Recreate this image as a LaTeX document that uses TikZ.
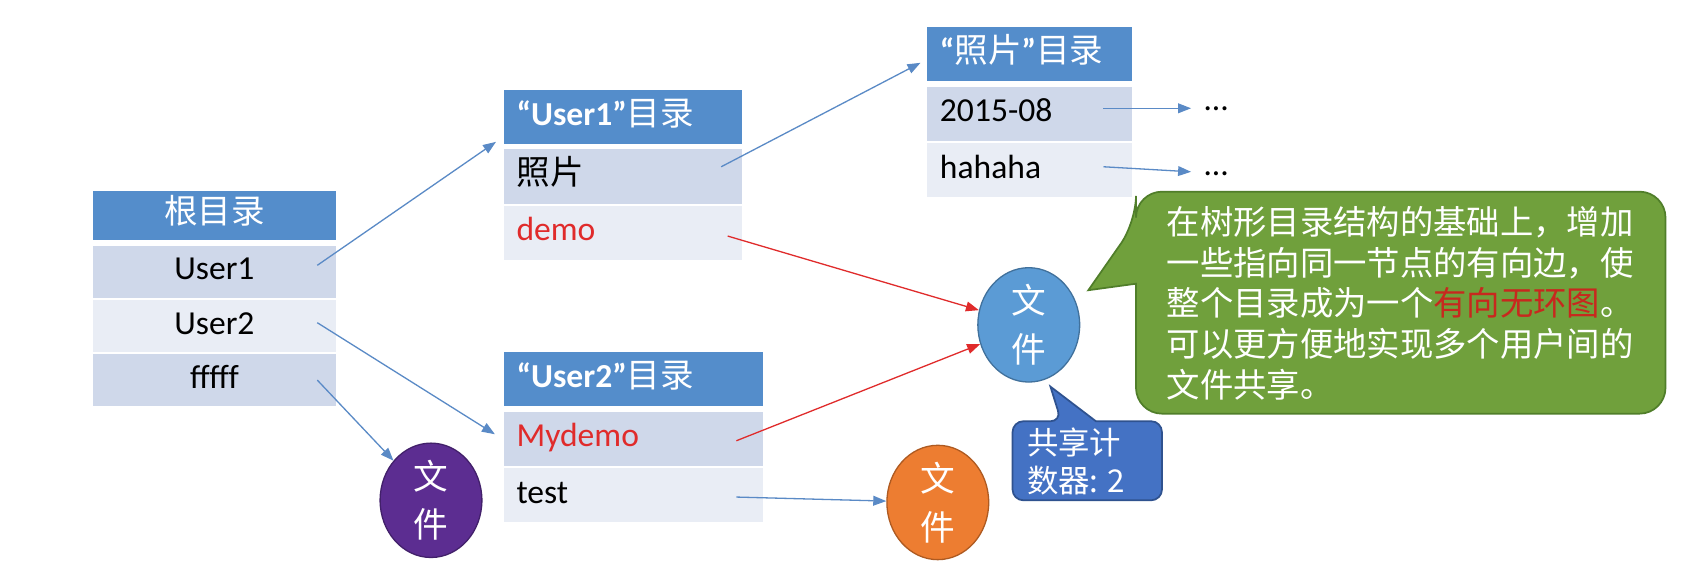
\documentclass[tikz,border=0pt]{standalone}
\usepackage{fontspec}
\setmainfont{Carlito}
\newfontfamily\cjk{Noto Sans CJK SC}
\usepackage {tikz}
\usetikzlibrary {positioning}
\usetikzlibrary{shapes.geometric}
\usetikzlibrary{arrows.meta}
\definecolor{headblue}{HTML}{548DCB}
\definecolor{banddark}{HTML}{CFD8EA}
\definecolor{bandlight}{HTML}{E9EDF5}
\definecolor{linkblue}{HTML}{5A8AC6}
\definecolor{linkred}{HTML}{E02B2B}
\definecolor{fileblue}{HTML}{5B9BD5}
\definecolor{fileblueline}{HTML}{41719C}
\definecolor{fileorange}{HTML}{ED7D31}
\definecolor{fileorangeline}{HTML}{AE5A21}
\definecolor{filepurple}{HTML}{5C2D91}
\definecolor{filepurpleline}{HTML}{42206A}
\definecolor{notegreen}{HTML}{70A03C}
\definecolor{notegreenline}{HTML}{507E2A}
\definecolor{notered}{HTML}{C8281E}
\definecolor{shareblue}{HTML}{4472C4}
\definecolor{sharebluline}{HTML}{2F528F}
\tikzset{
    cell/.style = {rectangle, inner xsep=6pt, inner ysep=0pt, outer sep=0pt, anchor=north west,
        text height=11pt, text depth=3.5pt, font=\fontsize{15.5}{18}\selectfont},
    head/.style = {cell, fill=headblue, text=white, minimum height=25pt, text width=#1},
    bandA/.style = {cell, fill=banddark, minimum height=25pt, text width=#1},
    bandB/.style = {cell, fill=bandlight, minimum height=25pt, text width=#1},
    filenode/.style = {ellipse, draw, line width=0.6pt, minimum width=47pt, minimum height=51pt,
        inner sep=0pt, text=white, align=center, font=\cjk\fontsize{16}{22.5}\selectfont},
    link/.style = {draw=linkblue, line width=0.6pt, -{Triangle[length=6pt,width=4.5pt]}},
    redlink/.style = {link, draw=linkred},
    dots/.style = {inner xsep=6pt, font=\fontsize{15.5}{18}\selectfont},
    notetext/.style = {align=left, text=white, inner sep=0pt, font=\cjk\fontsize{15.4}{18.75}\selectfont},
    sharetext/.style = {anchor=west, align=left, text=white, inner sep=0pt, font=\cjk\fontsize{14.5}{17.5}\selectfont}}
\begin{document}
\begin{tikzpicture}[x=0.5pt,y=-0.5pt]
        \path[use as bounding box, fill=white] (0,0) rectangle (1568,523.6);
        \node[head=100pt, align=center, minimum height=23pt] (R0) at (86,176) {\cjk 根目录};
        \node[bandA=100pt, align=center, minimum height=24pt, below=2.5pt of R0] (R1) {User1};
        \node[bandB=100pt, align=center, minimum height=24pt, below=1pt of R1] (R2) {User2};
        \node[bandA=100pt, align=center, minimum height=24pt, below=1pt of R2] (R3) {fffff};
        \node[head=98pt] (U0) at (465,83) {\bfseries “User1”\cjk\mdseries 目录};
        \node[bandA=98pt, below=2.5pt of U0] (U1) {\cjk 照片};
        \node[bandB=98pt, below=1pt of U1, text=linkred] (U2) {demo};
        \node[head=82.5pt] (P0) at (856,25) {{\bfseries “}{\cjk 照片}{\bfseries ”}{\cjk 目录}};
        \node[bandA=82.5pt, below=2.5pt of P0] (P1) {2015-08};
        \node[bandB=82.5pt, below=1pt of P1] (P2) {hahaha};
        \node[head=108pt] (V0) at (465,325) {\bfseries “User2”\cjk\mdseries 目录};
        \node[bandA=108pt, below=2.5pt of V0, text=linkred] (V1) {Mydemo};
        \node[bandB=108pt, below=1pt of V1] (V2) {test};
        \node[dots] (D1) at (1123,100) {…};
        \node[dots] (D2) at (1123,160) {…};
        \node[filenode, fill=fileblue, draw=fileblueline] (F1) at (950,300) {文\\件};
        \node[filenode, fill=fileorange, draw=fileorangeline] (F2) at (866,464) {文\\件};
        \node[filenode, fill=filepurple, draw=filepurpleline] (F3) at (398,462) {文\\件};
        \path[fill=notegreen, draw=notegreenline, line width=0.8pt, rounded corners=12pt]
            (1049,262) -- (1049,382) -- (1538,382) -- (1538,177) -- (1049,177) -- (1049,205)
            [sharp corners] -- (1005,268) -- cycle;
        \node[notetext] (N) at (1293,280) {在树形目录结构的基础上，增加\\一些指向同一节点的有向边，使\\整个目录成为一个{\color{notered}有向无环图}。\\可以更方便地实现多个用户间的\\文件共享。};
        \path[fill=shareblue, draw=sharebluline, line width=0.8pt, rounded corners=5pt]
            (1012,389) -- (1073,389) -- (1073,462) -- (935,462) -- (935,389) -- (980,389)
            [sharp corners] -- (970,357) -- cycle;
        \node[sharetext] (S) at (948,426) {共享计\\数器: 2};
        \draw[link] ([xshift=-8.5pt,yshift=3pt]R1.east) -- ([xshift=-3.5pt,yshift=1pt]U0.south west);
        \draw[link] ([xshift=-8.5pt,yshift=1.5pt]R2.east) -- ([xshift=-4pt,yshift=2pt]V1.west);
        \draw[link] ([xshift=-8.5pt]R3.east) -- (F3);
        \draw[link] ([xshift=-9.5pt,yshift=4.5pt]U1.east) -- ([xshift=-3pt,yshift=-4pt]P0.west);
        \draw[redlink] ([xshift=-6.5pt,yshift=-1.5pt]U2.east) -- (F1);
        \draw[redlink] ([xshift=-12.5pt,yshift=-1pt]V1.east) -- (F1);
        \draw[link] ([xshift=-12.5pt,yshift=-1pt]V2.east) -- (F2);
        \draw[link] ([xshift=-13pt,yshift=2.5pt]P1.east) -- (D1);
        \draw[link] ([xshift=-13pt,yshift=1.5pt]P2.east) -- (D2);
\end{tikzpicture}
\end{document}
